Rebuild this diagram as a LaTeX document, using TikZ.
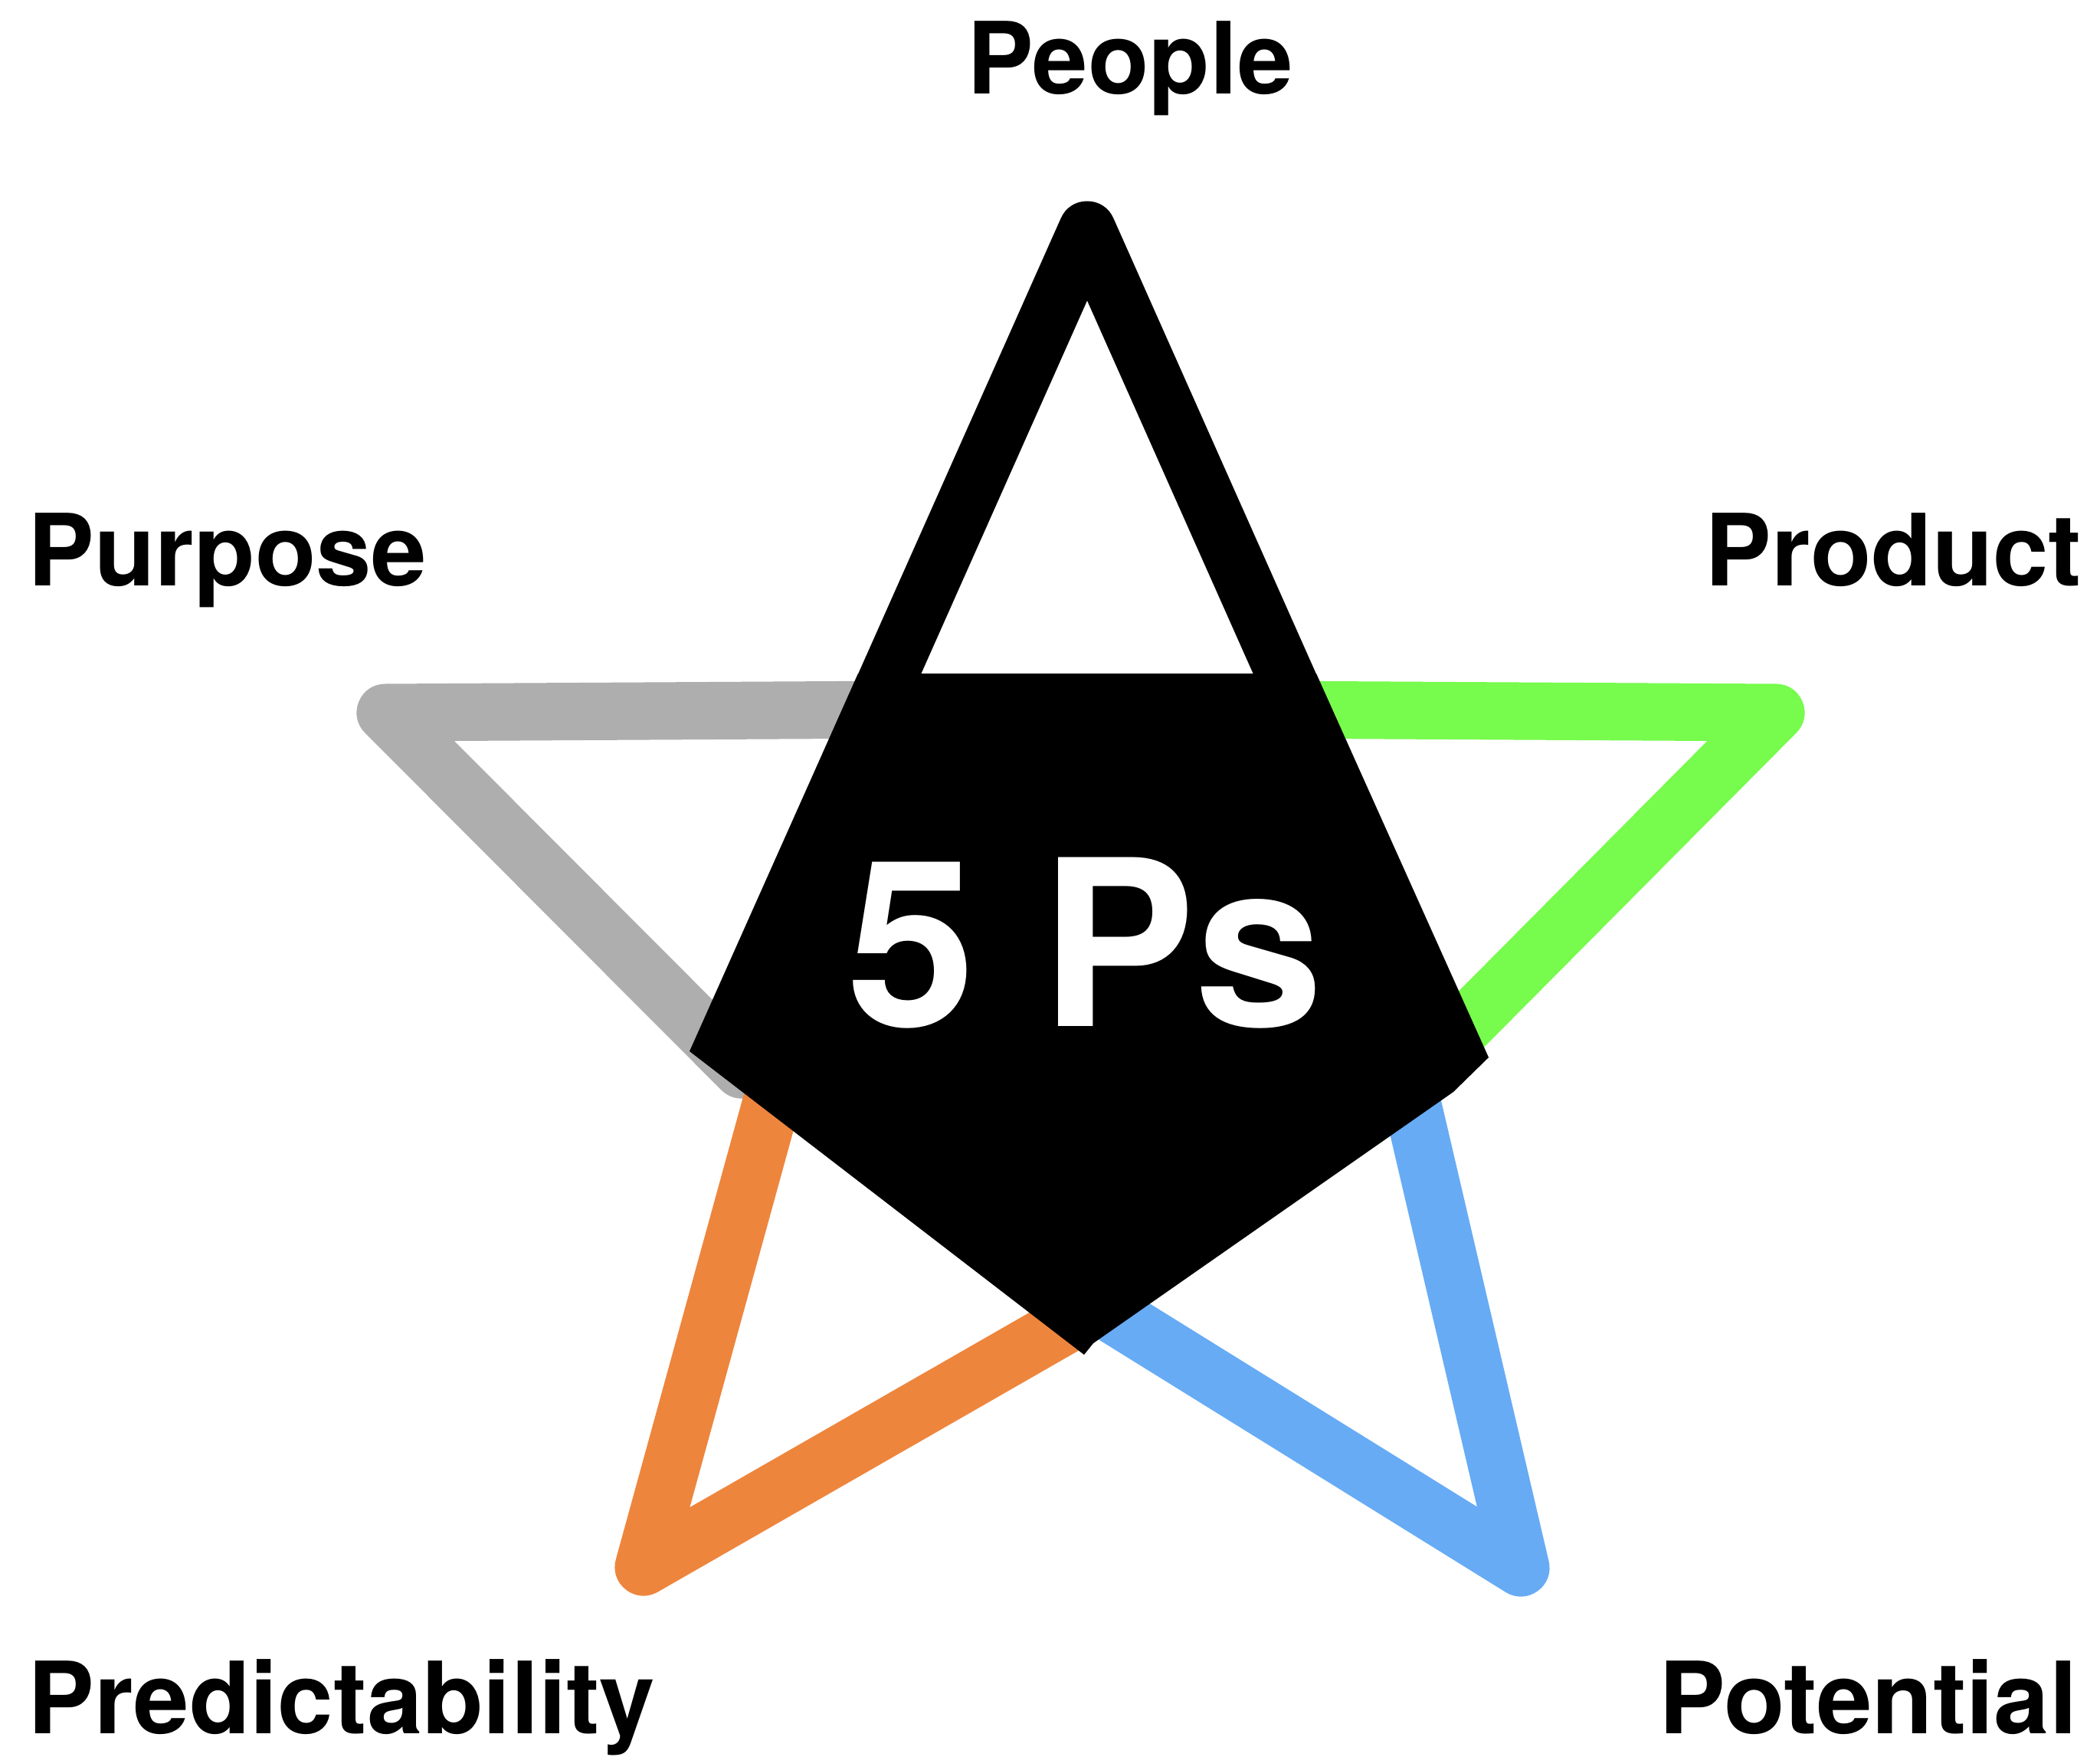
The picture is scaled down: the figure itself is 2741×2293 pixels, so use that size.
\documentclass[tikz,border=0pt]{standalone}
\usepackage{fontspec}
\setmainfont{TeX Gyre Heros}
\definecolor{pgray}{RGB}{174,174,174}
\definecolor{pgreen}{RGB}{119,251,77}
\definecolor{porange}{RGB}{238,133,61}
\definecolor{pblue}{RGB}{103,171,245}
\begin{document}
\begin{tikzpicture}[x=0.01cm,y=-0.01cm,
  band/.style={line width=0.75cm, line join=round, line cap=butt},
  lbl/.style={font=\fontsize{37}{40}\selectfont\bfseries, inner sep=0pt}]
\path[use as bounding box] (0,0) rectangle (2741,2293);
% Purpose (gray)
\coordinate (grayC) at (1180,926);
\coordinate (grayA) at (503,930);
\coordinate (grayB) at (968,1396);
\coordinate (grayD) at (993,1341);
\draw[band,pgray] (grayC) -- (grayA) -- (grayB) -- (grayD);
% Product (green)
\coordinate (greenC) at (1645,926);
\coordinate (greenA) at (2318,930);
\coordinate (greenB) at (1855,1396);
\coordinate (greenD) at (1830,1341);
\draw[band,pgreen] (greenC) -- (greenA) -- (greenB) -- (greenD);
% Predictability (orange)
\coordinate (orT) at (1012,1420);
\coordinate (orV) at (840,2045);
\coordinate (orR) at (1391,1729);
\draw[band,porange] (orT) -- (orV) -- (orR);
% Potential (blue)
\coordinate (blT) at (1834,1400);
\coordinate (blV) at (1985,2046);
\coordinate (blR) at (1450,1714);
\draw[band,pblue] (blT) -- (blV) -- (blR);
% People (black)
\coordinate (bkL) at (1107.5,1000);
\coordinate (bkA) at (1419,300);
\coordinate (bkR) at (1730.5,1000);
\draw[band,black] (bkL) -- (bkA) -- (bkR);
\fill[black] (1120,879) -- (1718,879) -- (1943,1380) -- (1897,1425) -- (1427,1753) -- (1415,1768) -- (900,1372) -- cycle;
\node[lbl, text=white, font=\fontsize{86}{90}\selectfont\bfseries, anchor=base] (fiveps) at (1417,1339) {5 Ps};
% labels
\node[lbl, anchor=base] (people) at (1475,122) {People};
\node[lbl, anchor=base west] (purpose) at (36,764) {Purpose};
\node[lbl, anchor=base east] (product) at (2718,764) {Product};
\node[lbl, anchor=base west] (predict) at (36,2262) {Predictability};
\node[lbl, anchor=base east] (potential) at (2712,2262) {Potential};
\end{tikzpicture}
\end{document}
